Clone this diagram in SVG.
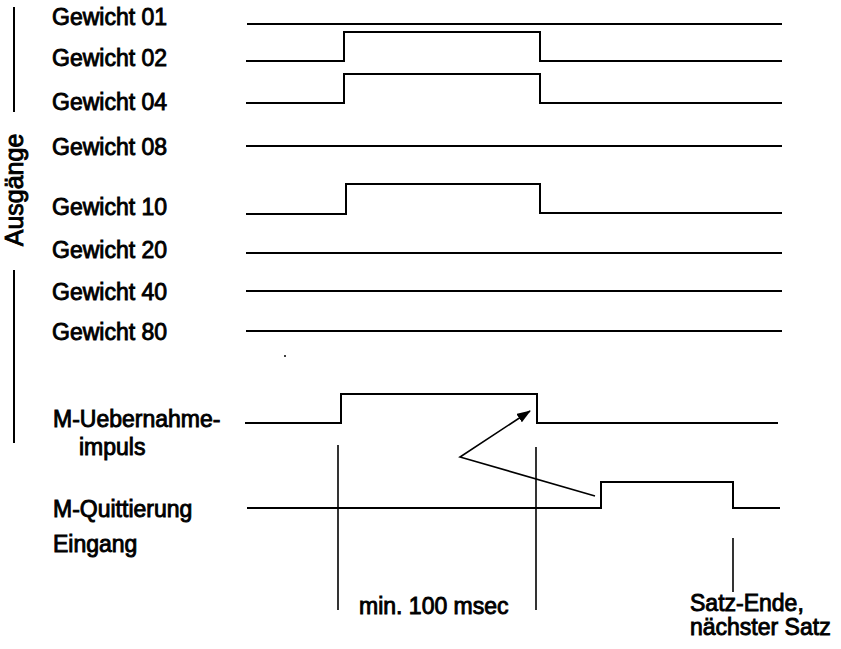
<svg xmlns="http://www.w3.org/2000/svg" width="841" height="649" viewBox="0 0 841 649">
<style>
text{font-family:"Liberation Sans",Arial,sans-serif;font-size:23px;font-weight:normal;fill:#000;stroke:#000;stroke-width:0.9}
.sig{fill:none;stroke:#000;stroke-width:2;stroke-linejoin:miter}
.thin{fill:none;stroke:#000;stroke-width:1.6}
</style>
<defs>
<marker id="ah" markerWidth="14" markerHeight="10" refX="13" refY="5" orient="auto" markerUnits="userSpaceOnUse">
<path d="M0,0 L14,5 L0,10 Z" fill="#000"/>
</marker>
</defs>
<rect width="841" height="649" fill="#fff"/>
<g id="group-label">
<line class="sig" x1="14" y1="7" x2="14" y2="112"/>
<line class="sig" x1="14" y1="270" x2="14" y2="443"/>
<text transform="translate(23,190) rotate(-90)" text-anchor="middle" style="font-size:25px">Ausgänge</text>
</g>
<g id="g01"><text x="52" y="25">Gewicht 01</text><path class="sig" d="M247,24 H782"/></g>
<g id="g02"><text x="52" y="66">Gewicht 02</text><path class="sig" d="M246,61 H344 V32 H540 V61 H782"/></g>
<g id="g04"><text x="52" y="110">Gewicht 04</text><path class="sig" d="M246,103 H344 V74 H540 V103 H782"/></g>
<g id="g08"><text x="52" y="155">Gewicht 08</text><path class="sig" d="M246,146 H782"/></g>
<g id="g10"><text x="52" y="215">Gewicht 10</text><path class="sig" d="M246,214 H346 V184 H540 V213 H782"/></g>
<g id="g20"><text x="52" y="258">Gewicht 20</text><path class="sig" d="M246,253 H782"/></g>
<g id="g40"><text x="52" y="300">Gewicht 40</text><path class="sig" d="M246,291 H782"/></g>
<g id="g80"><text x="52" y="340">Gewicht 80</text><path class="sig" d="M246,331 H782"/></g>
<circle cx="285" cy="356" r="1" fill="#000"/>
<g id="m-uebernahme"><text x="53" y="427">M-Uebernahme-</text><text x="79" y="455">impuls</text><path class="sig" d="M245,423 H341 V394 H537 V423 H778"/></g>
<g id="m-quittierung"><text x="53" y="517">M-Quittierung</text><text x="53" y="552">Eingang</text><path class="sig" d="M247,508 H601 V482 H733 V508 H780"/></g>
<g id="connectors">
<path class="thin" d="M595,496 L460,457 L530,411" marker-end="url(#ah)"/>
<line class="thin" x1="338" y1="445" x2="338" y2="610"/>
<line class="thin" x1="536" y1="447" x2="536" y2="610"/>
<line class="thin" x1="733" y1="538" x2="733" y2="592"/>
</g>
<g id="annotations">
<text x="359" y="614">min. 100 msec</text>
<text x="690" y="611">Satz-Ende,</text>
<text x="690" y="635">nächster Satz</text>
</g>
</svg>
